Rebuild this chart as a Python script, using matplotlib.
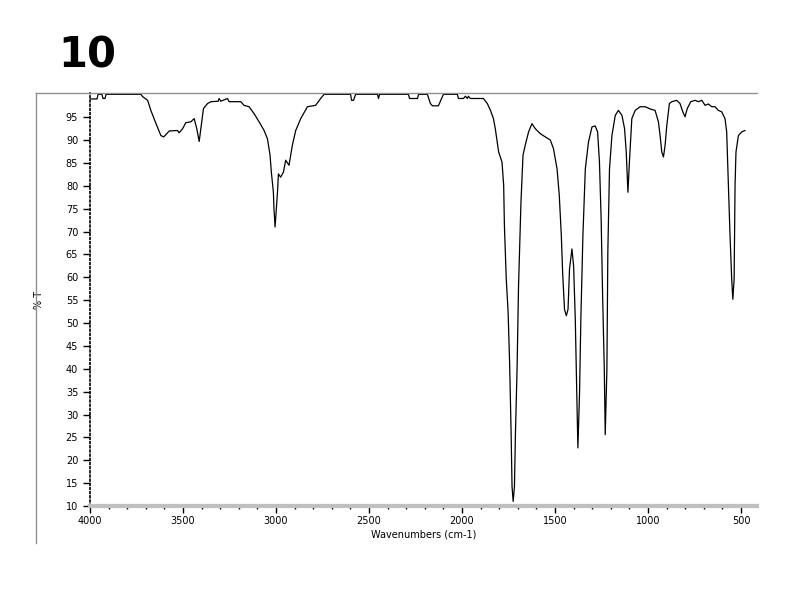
import matplotlib
matplotlib.use("Agg")
import matplotlib.pyplot as plt
from matplotlib.lines import Line2D
from matplotlib.ticker import MultipleLocator

title = "10"
x_label = "Wavenumbers (cm-1)"
y_label = "% T"

wavenumber = [4000, 3962, 3957, 3936, 3930, 3919, 3914, 3726, 3717, 3690, 3673, 3646, 3619, 3604,
              3592, 3574, 3529, 3521, 3502, 3485, 3458, 3440, 3426, 3413, 3404, 3390, 3368, 3350,
              3311, 3306, 3297, 3261, 3252, 3189, 3172, 3145, 3118, 3091, 3064, 3046, 3032, 3025,
              3014, 3011, 3005, 2998, 2992, 2987, 2975, 2960, 2948, 2930, 2912, 2894, 2867, 2831,
              2787, 2760, 2742, 2599, 2594, 2583, 2572, 2454, 2449, 2443, 2288, 2282, 2239, 2234,
              2186, 2170, 2159, 2127, 2100, 2025, 2019, 1992, 1982, 1971, 1966, 1955, 1885, 1864,
              1847, 1831, 1821, 1803, 1785, 1776, 1772, 1762, 1752, 1744, 1736, 1731, 1725, 1718,
              1713, 1704, 1696, 1683, 1672, 1660, 1642, 1624, 1606, 1579, 1552, 1525, 1508, 1489,
              1477, 1466, 1459, 1449, 1439, 1430, 1422, 1409, 1400, 1391, 1382, 1377, 1368, 1361,
              1350, 1337, 1320, 1301, 1284, 1271, 1261, 1252, 1244, 1235, 1230, 1221, 1216, 1207,
              1194, 1176, 1159, 1140, 1126, 1117, 1108, 1099, 1087, 1069, 1042, 1015, 988, 962,
              944, 935, 926, 917, 908, 899, 885, 872, 846, 828, 813, 801, 789, 770, 747, 729, 711,
              693, 676, 657, 640, 622, 604, 586, 577, 568, 559, 550, 544, 537, 532, 527, 514, 496,
              479]
transmittance = [99, 99, 100, 100, 99.1, 99.1, 100, 100, 99.5, 98.7, 96.5, 93.7, 91, 90.7,
                 91.2, 92, 92.1, 91.6, 92.5, 93.8, 94, 94.7, 92.5, 89.7, 92.5, 96.9, 98, 98.4,
                 98.5, 99.1, 98.5, 99.1, 98.4, 98.4, 97.6, 97.3, 95.8, 94, 92.1, 90.3, 86.7, 83,
                 78.6, 75, 71, 75, 78.6, 82.6, 81.9, 83, 85.6, 84.5, 88.9, 92.1, 94.7, 97.3,
                 97.6, 99.1, 100, 100, 98.7, 98.7, 100, 100, 99.1, 100, 100, 99.1, 99.1, 100,
                 100, 98, 97.5, 97.5, 100, 100, 99.1, 99.1, 99.6, 99.1, 99.6, 99.1, 99.1, 98,
                 96.5, 94.7, 92.5, 87.4, 85.2, 80.1, 71.3, 59.6, 52.3, 41.3, 26, 14.3, 11, 14.3,
                 25.3, 39.9, 58.2, 76.4, 86.7, 88.9, 91.8, 93.6, 92.5, 91.4, 90.7, 90, 88.1, 83.7,
                 77.9, 69.1, 61.1, 53, 51.6, 53, 61.8, 66.2, 62.5, 50.9, 32.6, 22.7, 34.8, 50.9,
                 69.1, 83.7, 89.6, 92.9, 93.1, 91.8, 85.2, 72.8, 56, 39.9, 25.6, 39.9, 65.5, 83.7,
                 91, 95.4, 96.5, 95.4, 92.5, 87.4, 78.6, 85.9, 94.7, 96.5, 97.3, 97.3, 96.8, 96.5,
                 94, 91, 87.4, 86.3, 88.9, 93.2, 98, 98.4, 98.7, 98, 96.2, 95.1, 96.9, 98.4, 98.7, 98.4, 98.7,
                 97.6, 97.9, 97.3, 97.3, 96.5, 96.2, 94.7, 91.8, 80.1, 69.1, 59.6, 55.2, 59.6, 80.1, 87.4, 91, 91.8,
                 92.1]

x_ticks = [4000, 3500, 3000, 2500, 2000, 1500, 1000, 500]
y_ticks = [10, 15, 20, 25, 30, 35, 40, 45, 50, 55, 60, 65, 70, 75, 80, 85, 90, 95]

fig = plt.figure(figsize=(8, 6), dpi=100)
ax = fig.add_axes([90/800, 1-506/600, (757-90)/800, (506-93)/600])

ax.plot(wavenumber, transmittance, color="black", linewidth=0.9)
ax.set_xlim(4000, 414)
ax.set_ylim(10, 100.3)

ax.set_xticks(x_ticks)
ax.xaxis.set_minor_locator(MultipleLocator(100))
ax.set_yticks(y_ticks)
ax.tick_params(axis="both", which="major", labelsize=7, direction="out", length=5, width=1, colors="black")
ax.tick_params(axis="x", which="major", pad=2)
ax.tick_params(axis="x", which="minor", direction="out", length=2, width=1)

ax.spines["right"].set_visible(False)
ax.spines["top"].set_color("#909090")
ax.spines["top"].set_linewidth(1)
ax.spines["left"].set_linestyle((0, (1, 1.5)))
ax.spines["left"].set_linewidth(1.2)
ax.spines["bottom"].set_color("#c0c0c0")
ax.spines["bottom"].set_linewidth(3)

ax.set_xlabel(x_label, fontsize=7, labelpad=3)
ax.set_ylabel(y_label, fontsize=7)
ax.yaxis.set_label_coords(-(90-44)/667, 0.5)

# outer frame lines
fig.add_artist(Line2D([36/800, 90/800], [1-93/600, 1-93/600], color="#909090", linewidth=1))
fig.add_artist(Line2D([36/800, 36/800], [1-93/600, 1-543/600], color="#909090", linewidth=1))

fig.text(58/800, 1-56/600, title, fontsize=30, fontweight="bold", va="center", ha="left",
         family="DejaVu Sans")

fig.savefig("out.png", dpi=100)
